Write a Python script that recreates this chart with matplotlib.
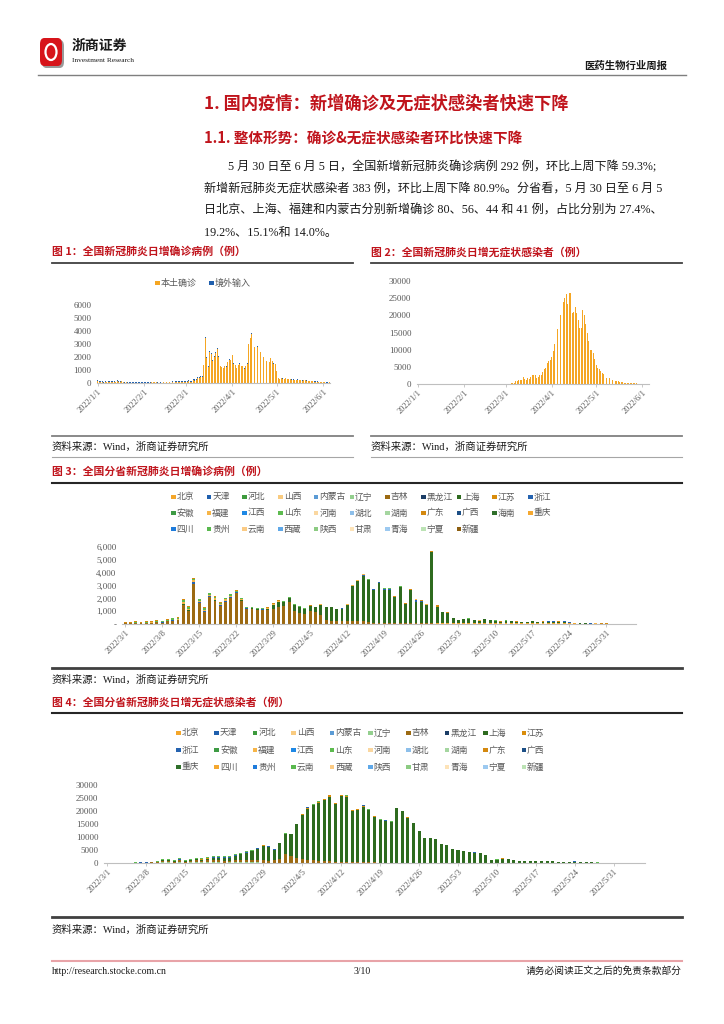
import matplotlib
matplotlib.use('Agg')
import matplotlib.pyplot as plt
from matplotlib.lines import Line2D
from matplotlib.patches import Rectangle, FancyBboxPatch, Ellipse
from matplotlib.ticker import FuncFormatter
import numpy as np
import pandas as pd

# ---------------- data ----------------
# fig 1: national daily confirmed, 2022/1/1 - 2022/6/5
local1 = [175, 90, 95, 90, 35, 60, 45, 95, 100, 110, 110, 80, 75, 165, 105, 65, 125, 40, 20, 45, 25, 25, 20, 20, 20, 30, 20, 20, 15, 20, 20,
          15, 10, 15, 15, 10, 45, 65, 60, 40, 30, 50, 30, 50, 50, 35, 40, 40, 50, 80, 90, 55, 60, 70, 60, 90, 80, 100, 110,
          100, 110, 140, 100, 100, 200, 170, 210, 380, 400, 450, 500, 1350, 3500, 1900, 1250, 2400, 2200, 1700, 2000, 2300, 2650,
          2000, 1300, 1200, 1150, 1300, 1250, 1600, 1800, 1750,
          2150, 1500, 1350, 1150, 1350, 1500, 1300, 1300, 1100, 1300, 1500, 3000, 3450, 3800, 3550, 2750, 2750, 2800, 2700, 2400,
          2200, 2000, 1900, 1700, 1500, 1600, 1900, 1700, 1500, 1450,
          900, 350, 300, 350, 330, 300, 350, 300, 280, 300, 250, 250, 230, 200, 250, 200, 220, 180, 200, 200, 180, 150, 170, 120,
          130, 100, 100, 90, 80, 60, 50,
          40, 40, 30, 30, 40]
imported1 = [40, 50, 30, 40, 45, 60, 50, 40, 35, 30, 45, 40, 30, 35, 40, 60, 55, 50, 35, 30, 40, 45, 35, 40, 45, 40, 50, 45, 40, 50, 35,
             40, 50, 45, 50, 55, 45, 40, 50, 60, 50, 45, 50, 55, 60, 55, 50, 60, 45, 55, 60, 70, 65, 60, 65, 55, 60, 70, 80,
             80, 70, 75, 70, 80, 90, 100, 90, 80, 70, 80, 70, 60, 70, 80, 60, 50, 70, 60, 60, 50, 40, 50, 40, 50, 40, 40, 50, 40, 40, 40,
             30, 40, 40, 30, 30, 40, 30, 30, 30, 30, 40, 30, 30, 30, 30, 30, 20, 30, 20, 20, 30, 20, 30, 20, 20, 20, 30, 20, 20, 30,
             30, 30, 20, 30, 40, 30, 20, 30, 30, 30, 20, 30, 20, 30, 20, 30, 30, 20, 20, 30, 20, 30, 20, 30, 20, 20, 20, 30, 20, 20, 20,
             20, 20, 20, 30, 20]

# fig 2: national daily asymptomatic, 2022/1/1 - 2022/6/5
asym2 = [30, 40, 35, 40, 30, 30, 25, 30, 35, 30, 25, 30, 35, 30, 30, 25, 20, 20, 15, 20, 20, 15, 20, 15, 15, 10, 10, 10, 15, 10, 10,
         10, 10, 10, 10, 10, 15, 20, 20, 15, 20, 20, 25, 20, 30, 25, 30, 25, 20, 30, 30, 30, 40, 50, 40, 60, 60, 60, 80,
         60, 80, 100, 120, 200, 300, 350, 800, 1000, 1200, 1100, 1300, 1900, 1400, 1200, 1700, 1400, 2000, 2500, 2500, 2600,
         1800, 2000, 2500, 2700, 3500, 4500, 4800, 6000, 6800, 7000,
         8000, 9500, 11700, 13500, 16000, 19200, 20000, 22500, 24000, 25000, 26200, 23300, 26500, 26500, 20700, 21000, 22400,
         20600, 18500, 16400, 16400, 21500, 20000, 17500, 15000, 12500, 10000, 9800, 9000, 7300,
         5500, 4800, 4300, 3800, 3200, 2900, 2400, 1700, 2400, 1800, 1500, 1200, 1000, 900, 900, 800, 700, 600, 500, 400, 400,
         300, 300, 250, 200, 200, 150, 150, 100, 100, 80,
         60, 50, 50, 40, 40]

# fig 3: confirmed by province, 2022/3/1 - 2022/6/5
beijing_c = [5] * 11 + [5] * 32 + [5, 5, 5, 5, 5, 5, 5, 5, 5, 10, 10, 20, 10, 20, 20, 20, 50, 40, 40] + \
            [40, 40, 40, 50, 50, 40, 50, 50, 50, 40, 50, 50, 40, 40, 50, 60, 50, 60, 50, 60, 60, 50, 40, 40, 30, 30, 20, 20,
             15, 15, 12, 12, 12, 10, 10]
jilin_c = [40, 50, 60, 40, 70, 80, 120, 100, 200, 250, 300,
           1500, 1000, 3100, 1600, 950, 2100, 1800, 1400, 1700, 2000, 2400, 1800, 1150, 1200, 1100, 1050, 1100, 1150, 1300, 1400,
           1700, 1000, 850, 800, 1000, 900, 700, 300, 250, 200, 200, 200,
           250, 200, 200, 150, 100, 100, 80, 80, 60, 60, 50, 40, 40, 30, 30, 30, 20, 20, 20,
           10, 5, 5, 5, 5, 5, 5, 5, 5, 5, 5, 5, 5, 5, 5, 5, 5, 5, 5, 5, 5, 5, 5, 5, 5, 5, 5, 5, 0, 0, 0, 0, 0, 0, 0]
shanghai_c = [2, 3, 3, 3, 5, 3, 4, 4, 5, 10, 20,
              40, 50, 40, 20, 10, 10, 60, 20, 20, 30, 40, 50, 40, 30, 40, 60, 60, 300, 400, 300, 330, 450, 450, 350, 400, 400,
              800, 1000, 1050, 950, 1000, 1300,
              2700, 3150, 3550, 3250, 2570, 3110, 2560, 2600, 2000, 2820, 1480, 2580, 1700, 1650, 1450, 5550, 1250, 850, 800,
              380, 280, 320, 360, 260, 220, 300, 250, 200, 130, 200, 150, 120, 80, 100, 140, 100, 90, 120, 100, 70, 80, 50, 20,
              20, 10, 5, 5, 5, 5, 3, 3, 3, 2, 2]
zhejiang_c = [10, 10, 20, 20, 20, 20, 20, 20, 20, 30, 20,
              50, 40, 150, 70, 40, 30, 30, 30, 40, 60, 30, 30, 20, 20, 15, 20, 20, 20, 20, 10, 10, 20, 20, 20, 10, 10, 10, 10,
              10, 10, 10, 10,
              20, 30, 80, 30, 20, 30, 100, 60, 30, 10, 10, 10, 150, 100, 10, 10, 10, 10, 10,
              5, 5, 5, 5, 5, 5, 10, 10, 10, 5, 10, 10, 10, 5, 10, 10, 10, 20, 40, 50, 40, 80, 30, 20, 30, 20, 10, 5, 5, 5, 0, 0,
              0, 0, 0]
fujian_c = [10, 10, 20, 10, 10, 10, 10, 10, 20, 40, 30,
            95, 55, 95, 65, 105, 125, 145, 85, 145, 75, 55, 55, 35, 25, 20, 35, 35, 45, 45, 25, 5, 25, 25, 15, 5, 5, 5, 5, 5, 5,
            5, 5,
            35, 25, 25, 25, 15, 15, 15, 15, 15, 10, 10, 10, 10, 10, 10, 10, 10, 10, 10,
            5, 5, 5, 5, 5, 5, 5, 5, 5, 5, 5, 5, 5, 5, 5, 5, 5, 5, 5, 5, 10, 10, 10, 10, 10, 5, 5, 5, 5, 5, 5, 5, 5, 5, 5]
shandong_c = [20, 20, 40, 30, 40, 60, 80, 80, 100, 100, 80,
              200, 200, 150, 150, 160, 120, 100, 120, 100, 130, 80, 70, 60, 40, 40, 40, 50, 50, 50, 40, 30, 30, 30, 40, 20, 20,
              20, 20, 20, 20, 20, 20,
              20, 20, 20, 20, 20, 20, 20, 20, 20, 20, 20, 20, 20, 20, 20, 20, 20, 10, 10,
              5, 5, 5, 5, 5, 5, 5, 5, 5, 5, 5, 5, 5, 5, 5, 5, 5, 5, 5, 5, 5, 5, 5, 5, 5, 5, 5, 5, 5, 5, 5, 5, 5, 5, 5]
guangdong_c = [60, 50, 80, 60, 60, 60, 60, 40, 50, 70, 60,
               60, 50, 60, 40, 30, 60, 60, 40, 40, 50, 40, 40, 40, 30, 30, 40, 30, 30, 30, 20, 20, 20, 20, 20, 10, 10, 10, 10,
               10, 10, 10, 10,
               20, 20, 20, 20, 20, 20, 20, 20, 20, 20, 20, 20, 20, 20, 10, 10, 150, 10, 10,
               10, 10, 10, 10, 10, 10, 10, 10, 10, 10, 10, 10, 10, 10, 10, 10, 10, 10, 10, 10, 10, 10, 10, 10, 10, 10, 5, 5, 5, 5,
               5, 5, 5, 3, 3]

# fig 4: asymptomatic by province, 2022/3/1 - 2022/6/5
liaoning_a = [10, 10, 20, 20, 40,
              50, 60, 60, 80, 100, 300, 250, 150, 250, 150, 200, 250, 200, 200, 200,
              200, 100, 200, 300, 300, 300, 300, 200, 150, 150, 100, 50, 50, 50, 50,
              100, 100, 100, 100, 100, 100, 100, 100, 100, 80, 80, 80, 80, 80, 80, 50, 50, 50, 50, 50, 50, 40, 40, 40, 30, 30, 30,
              50, 50, 50, 50, 50, 50, 30, 20, 50, 30, 50, 50, 50, 50, 50, 50, 50, 70, 50, 50, 50, 70, 120, 100, 60, 60, 50, 50,
              60, 60, 60, 40, 35, 30, 20]
jilin_a = [5, 10, 20, 20, 30,
           50, 100, 100, 150, 250, 600, 700, 400, 900, 400, 700, 800, 700, 900, 1000,
           900, 800, 700, 800, 900, 1000, 800, 800, 900, 800, 900, 1500, 3500, 2500, 1800,
           1500, 1200, 1000, 800, 700, 500, 400, 300, 300, 200, 200, 200, 150, 150, 100, 100, 100, 80, 80, 60, 60, 50, 50, 40,
           40, 30, 30,
           20, 20, 10, 10, 10, 10, 10, 5, 5, 5, 5, 5, 5, 5, 5, 5, 5, 5, 5, 5, 5, 5, 5, 5, 0, 0, 0, 0, 0, 0, 0, 0, 0, 0, 0]
shanghai_a = [1, 2, 2, 3, 5,
              10, 20, 20, 30, 60, 70, 70, 120, 140, 150, 200, 300, 400, 600, 800,
              900, 980, 980, 1580, 2200, 2600, 3450, 4400, 5650, 5300, 4100, 6000, 7600, 8500, 13000,
              17000, 19650, 21150, 22350, 23450, 24950, 22300, 25200, 25000, 19900, 20200, 21400, 20000, 17600, 16300, 16000,
              15600, 20900, 19700, 17300, 15200, 12100, 9400, 9400, 9100, 7100, 6700,
              5300, 4800, 4400, 4100, 3900, 3800, 2900, 1200, 1200, 1600, 1300, 1150, 750, 650, 550, 550, 550, 600, 550, 250,
              250, 300, 350, 300, 150, 150, 80, 50, 40, 20, 10, 5, 5, 5, 5]
jiangsu_a = [0, 0, 0, 0, 0,
             10, 10, 10, 10, 10, 30, 30, 20, 40, 20, 20, 50, 50, 100, 100,
             100, 50, 100, 50, 50, 50, 50, 50, 50, 50, 50, 50, 50, 50, 50,
             100, 100, 100, 200, 200, 500, 100, 500, 200, 100, 100, 200, 150, 100, 100, 100, 100, 100, 150, 100, 100, 80, 80,
             80, 60, 60, 50,
             50, 50, 50, 50, 50, 50, 50, 30, 50, 120, 80, 50, 50, 50, 50, 50, 50, 80, 50, 50, 50, 80, 80, 50, 50, 50, 30, 30,
             30, 20, 20, 20, 10, 10, 10]
zhejiang_a = [0, 0, 0, 0, 0,
              20, 20, 20, 30, 30, 100, 100, 60, 120, 80, 80, 100, 150, 200, 200,
              400, 500, 500, 300, 200, 200, 200, 150, 100, 100, 100, 80, 80, 80, 50,
              100, 300, 100, 100, 100, 100, 100, 100, 300, 100, 100, 400, 100, 200, 100, 100, 100, 100, 100, 100, 100, 100, 50,
              50, 50, 50, 50,
              50, 50, 50, 50, 50, 50, 200, 30, 30, 30, 30, 30, 30, 30, 30, 30, 30, 30, 30, 30, 30, 30, 30, 30, 20, 20, 20, 10,
              10, 10, 10, 10, 10, 5, 5]
shandong_a = [5, 10, 10, 20, 30,
              60, 90, 90, 100, 150, 400, 350, 250, 350, 200, 300, 300, 300, 300, 300,
              300, 200, 300, 300, 300, 300, 300, 250, 200, 200, 150, 100, 100, 100, 100,
              200, 150, 150, 150, 150, 150, 100, 100, 100, 100, 100, 100, 100, 100, 80, 80, 80, 80, 80, 60, 60, 50, 50, 50, 40,
              40, 40,
              50, 50, 50, 50, 50, 50, 20, 20, 70, 20, 40, 20, 20, 20, 20, 20, 20, 20, 20, 20, 20, 20, 20, 20, 20, 20, 20, 10,
              10, 10, 0, 5, 0, 0, 0]

prov3 = ['北京', '天津', '河北', '山西', '内蒙古', '辽宁', '吉林', '黑龙江', '上海', '江苏', '浙江',
         '安徽', '福建', '江西', '山东', '河南', '湖北', '湖南', '广东', '广西', '海南', '重庆',
         '四川', '贵州', '云南', '西藏', '陕西', '甘肃', '青海', '宁夏', '新疆']
prov4 = [p for p in prov3 if p != '海南']
palette = ['#F4A62A', '#1F5FAD', '#3D9A3D', '#F9CB80', '#5B9BD5', '#93CF8E', '#9C6A12', '#1B3D66', '#2E6B1F',
           '#D98C0A', '#2563B0', '#3E9B44', '#F7B548', '#1E88E5', '#5DBB4F', '#FAD7A0', '#8DBFEA', '#A5D6A0',
           '#D4880E', '#1C4F86', '#2F6F2A', '#F5A830', '#1E7BDB', '#59B84E', '#FBCB85', '#5FA8E8', '#8CCB82',
           '#FDE3B8', '#9CC9F0', '#BCE3B5', '#8C5E10']

data3 = {'北京': beijing_c, '吉林': jilin_c, '上海': shanghai_c, '浙江': zhejiang_c,
         '福建': fujian_c, '山东': shandong_c, '广东': guangdong_c}
data4 = {'辽宁': liaoning_a, '吉林': jilin_a, '上海': shanghai_a, '江苏': jiangsu_a,
         '浙江': zhejiang_a, '山东': shandong_a}

dates12 = pd.date_range('2022-01-01', periods=len(local1), freq='D')
dates34 = pd.date_range('2022-03-01', periods=len(shanghai_c), freq='D')

# ---------------- page ----------------
plt.rcParams['font.family'] = ['Noto Sans CJK SC', 'DejaVu Sans']
SERIF = ['Liberation Serif', 'Noto Sans CJK SC']
RED = '#C0141C'
GRAY = '#595959'

fig = plt.figure(figsize=(7.24, 10.24), dpi=100)


def fx(px):
    return px / 724


def fy(py):
    return 1 - py / 1024


def hline(x0, x1, y, color, lw):
    fig.add_artist(Line2D([fx(x0), fx(x1)], [fy(y), fy(y)], transform=fig.transFigure,
                          color=color, linewidth=lw))


def add_ax(l, t, r, b):
    return fig.add_axes([fx(l), fy(b), (r - l) / 724, (b - t) / 1024])


def style_ax(ax, ylim, yfmt, ticks, xlim):
    for s in ['top', 'right', 'left']:
        ax.spines[s].set_visible(False)
    ax.spines['bottom'].set_color('#BFBFBF')
    ax.spines['bottom'].set_linewidth(0.8)
    ax.set_ylim(ylim)
    ax.set_yticks(np.arange(0, ylim[1] + 1, ylim[1] / 6))
    ax.yaxis.set_major_formatter(FuncFormatter(yfmt))
    ax.tick_params(axis='y', length=0, pad=4, labelsize=6.5, labelcolor=GRAY)
    ax.tick_params(axis='x', length=2.5, color='#BFBFBF', width=0.6, pad=1)
    for lab in ax.get_yticklabels():
        lab.set_fontfamily('Liberation Serif')
    ax.set_xticks(ticks)
    ax.set_xticklabels([f'{d.year}/{d.month}/{d.day}' for d in ticks], rotation=45, ha='right',
                       rotation_mode='anchor', fontfamily='Liberation Serif', fontsize=6, color=GRAY)
    ax.set_xlim(xlim)
    ax.patch.set_alpha(0)


def legend_grid(names, colors, x0, y0, dx, dy, ncol):
    for i, (n, c) in enumerate(zip(names, colors)):
        r, k = divmod(i, ncol)
        x = x0 + k * dx
        y = y0 + r * dy
        fig.add_artist(Rectangle((fx(x), fy(y + 2.3)), 4.6 / 724, 4.6 / 1024,
                                 transform=fig.transFigure, color=c, linewidth=0))
        fig.text(fx(x + 5.5), fy(y), n, fontsize=6.3, color=GRAY, va='center', ha='left')


# header
fig.add_artist(FancyBboxPatch((fx(42), fy(68)), 22 / 724, 28 / 1024, boxstyle='round,pad=0,rounding_size=0.006',
                              transform=fig.transFigure, facecolor='#9A9A9A', edgecolor='none'))
fig.add_artist(FancyBboxPatch((fx(40), fy(66)), 22 / 724, 28 / 1024, boxstyle='round,pad=0,rounding_size=0.006',
                              transform=fig.transFigure, facecolor='#D7141A', edgecolor='none'))
fig.add_artist(Ellipse((fx(51), fy(52)), 11 / 724, 16 / 1024, transform=fig.transFigure,
                       facecolor='none', edgecolor='white', linewidth=1.6))
fig.text(fx(72), fy(46), '浙商证券', fontsize=10, fontweight='bold', color='#1A1A1A', va='center')
fig.text(fx(72), fy(61), 'Investment Research', fontsize=5.3, family='Liberation Serif',
         color='#1A1A1A', va='center')
fig.text(fx(667), fy(66), '医药生物行业周报', fontsize=7.5, fontweight='bold', color='#1A1A1A',
         va='center', ha='right')
hline(38, 686, 75, '#7F7F7F', 1.0)

# section titles and paragraph
fig.text(fx(204), fy(104), '1. 国内疫情：新增确诊及无症状感染者快速下降', fontsize=12.4, fontweight='bold',
         color=RED, va='center')
fig.text(fx(204), fy(139), '1.1. 整体形势：确诊&无症状感染者环比快速下降', fontsize=10.5, fontweight='bold',
         color=RED, va='center')
para = ['5 月 30 日至 6 月 5 日，全国新增新冠肺炎确诊病例 292 例，环比上周下降 59.3%;',
        '新增新冠肺炎无症状感染者 383 例，环比上周下降 80.9%。分省看，5 月 30 日至 6 月 5',
        '日北京、上海、福建和内蒙古分别新增确诊 80、56、44 和 41 例，占比分别为 27.4%、',
        '19.2%、15.1%和 14.0%。']
for i, line in enumerate(para):
    fig.text(fx(228 if i == 0 else 204), fy(167 + 22 * i), line, fontsize=8.7, family=SERIF,
             color='#1A1A1A', va='center')

# figure 1 and 2 frames
for x0, x1, title in [(52, 353, '图 1：全国新冠肺炎日增确诊病例（例）'),
                      (371, 682, '图 2：全国新冠肺炎日增无症状感染者（例）')]:
    fig.text(fx(x0), fy(252), title, fontsize=7.8, fontweight='bold', color=RED, va='center')
    hline(x0, x1, 263, '#404040', 1.3)
    hline(x0, x1, 436, '#808080', 1.3)
    fig.text(fx(x0), fy(447), '资料来源：Wind，浙商证券研究所', fontsize=7.5, family=SERIF,
             color='#1A1A1A', va='center')
    hline(x0, x1, 457, '#A6A6A6', 0.8)

ticks12 = [d for d in dates12 if d.day == 1]
half = pd.Timedelta(hours=14)

ax1 = add_ax(97, 305, 330, 383)
ax1.bar(dates12, local1, width=0.6, color='#F5A623', linewidth=0)
ax1.bar(dates12, imported1, bottom=local1, width=0.6, color='#1F5FAD', linewidth=0)
style_ax(ax1, (0, 6000), lambda v, p: f'{v:.0f}', ticks12, (dates12[0] - half, dates12[-1] + half))
fig.add_artist(Rectangle((fx(155), fy(285.3)), 4.6 / 724, 4.6 / 1024, transform=fig.transFigure,
                         color='#F5A623', linewidth=0))
fig.text(fx(161), fy(283), '本土确诊', fontsize=6.5, color=GRAY, va='center')
fig.add_artist(Rectangle((fx(209), fy(285.3)), 4.6 / 724, 4.6 / 1024, transform=fig.transFigure,
                         color='#1F5FAD', linewidth=0))
fig.text(fx(215), fy(283), '境外输入', fontsize=6.5, color=GRAY, va='center')

ax2 = add_ax(417, 281, 649, 384)
ax2.bar(dates12, asym2, width=0.6, color='#F5A623', linewidth=0)
style_ax(ax2, (0, 30000), lambda v, p: f'{v:.0f}', ticks12, (dates12[0] - half, dates12[-1] + half))

# figure 3
fig.text(fx(52), fy(472), '图 3：全国分省新冠肺炎日增确诊病例（例）', fontsize=7.8, fontweight='bold',
         color=RED, va='center')
hline(52, 682, 483, '#262626', 1.5)
legend_grid(prov3, palette, 171, 497, 35.7, 16, 11)

ticks34 = dates34[::7]
ax3 = add_ax(122, 547, 636, 624)
bottom = np.zeros(len(dates34))
for i, p in enumerate(prov3):
    if p in data3:
        vals = np.array(data3[p], dtype=float)
        ax3.bar(dates34, vals, bottom=bottom, width=0.55, color=palette[i], linewidth=0)
        bottom += vals
style_ax(ax3, (0, 6000), lambda v, p: '-' if v == 0 else f'{v:,.0f}', ticks34,
         (dates34[0] - half, dates34[-1] + half))
hline(52, 682, 668, '#404040', 2.0)
fig.text(fx(52), fy(680), '资料来源：Wind，浙商证券研究所', fontsize=7.5, family=SERIF, color='#1A1A1A',
         va='center')

# figure 4
fig.text(fx(52), fy(702), '图 4：全国分省新冠肺炎日增无症状感染者（例）', fontsize=7.8, fontweight='bold',
         color=RED, va='center')
hline(52, 682, 713, '#262626', 1.5)
legend_grid(prov4, palette, 176, 733, 38.4, 17, 10)

ax4 = add_ax(104, 785, 645, 863)
bottom = np.zeros(len(dates34))
for i, p in enumerate(prov4):
    if p in data4:
        vals = np.array(data4[p], dtype=float)
        ax4.bar(dates34, vals, bottom=bottom, width=0.55, color=palette[i], linewidth=0)
        bottom += vals
style_ax(ax4, (0, 30000), lambda v, p: f'{v:.0f}', ticks34, (dates34[0] - half, dates34[-1] + half))
hline(52, 682, 917, '#404040', 2.0)
fig.text(fx(52), fy(930), '资料来源：Wind，浙商证券研究所', fontsize=7.5, family=SERIF, color='#1A1A1A',
         va='center')

# footer
hline(52, 682, 961, '#E8A3A8', 1.5)
fig.text(fx(52), fy(971), 'http://research.stocke.com.cn', fontsize=7, family='Liberation Serif',
         color='#1A1A1A', va='center')
fig.text(fx(362), fy(971), '3/10', fontsize=7, family='Liberation Serif', color='#1A1A1A',
         va='center', ha='center')
fig.text(fx(682), fy(971), '请务必阅读正文之后的免责条款部分', fontsize=7, color='#1A1A1A',
         va='center', ha='right')

fig.savefig('out.png', dpi=100)
